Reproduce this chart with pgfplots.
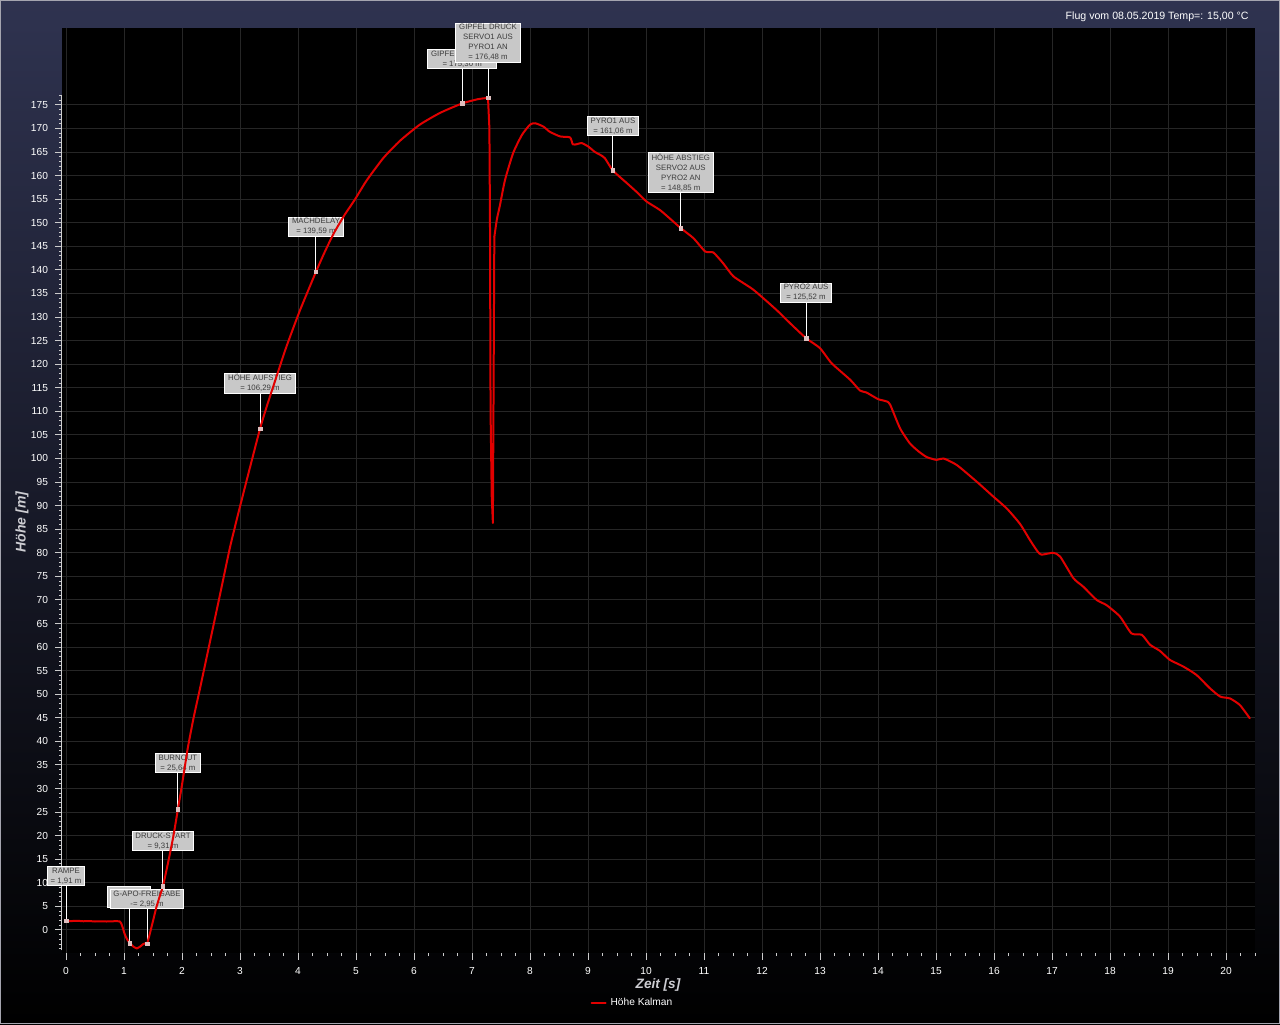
\documentclass[border=0pt]{standalone}
\usepackage{fontspec}
\setmainfont{Liberation Sans}
\usepackage{pgfplots}
\pgfplotsset{compat=1.18}
\definecolor{navytop}{RGB}{47,51,80}
\definecolor{navymid}{RGB}{24,26,42}
\definecolor{gridc}{RGB}{38,38,38}
\definecolor{ticc}{RGB}{205,205,205}
\definecolor{curvec}{RGB}{226,0,0}
\definecolor{boxfill}{RGB}{200,200,200}
\definecolor{boxtext}{RGB}{60,60,60}
\definecolor{labelc}{RGB}{205,205,210}
\definecolor{markc}{RGB}{222,190,190}
\definecolor{framec}{RGB}{165,165,175}
\tikzset{abox/.style={fill=boxfill, draw=white, line width=0.5pt, text=boxtext,
    font=\fontsize{3.9}{5}\selectfont, align=center, inner xsep=1.6pt,
    inner ysep=0.7pt, anchor=south}}
\begin{document}
\begin{tikzpicture}
\shade[top color=navytop, middle color=navymid, bottom color=black] (0pt,0pt) rectangle (640pt,512pt);
\draw[framec, line width=0.6pt] (0.3pt,0.3pt) rectangle (639.7pt,511.7pt);
\begin{axis}[
  at={(31pt,35.5pt)}, anchor=south west,
  scale only axis, width=596.5pt, height=462.5pt,
  xmin=-0.069, xmax=20.5, ymin=-4.88, ymax=191.3,
  axis background/.style={fill=black},
  axis x line*=bottom, axis y line*=left,
  axis line style={draw=none},
  xtick={0,1,...,20}, ytick={0,5,...,175},
  minor xtick={0,0.25,...,20.5}, minor ytick={-4,-3,...,177},
  tick align=outside,
  major tick length=3.5pt, minor tick length=1.6pt,
  tick style={draw=ticc, line width=0.5pt},
  grid=major, major grid style={draw=gridc, line width=0.5pt},
  ticklabel style={font=\fontsize{5.1}{6}\selectfont, text=white},
  /pgf/number format/assume math mode=true,
  clip=false,
  legend style={at={(0.479,-0.054)}, anchor=center, draw=none, fill=none,
    font=\fontsize{5.1}{6}\selectfont, text=white, inner sep=0pt},
  legend image code/.code={\draw[#1] (0pt,0pt) -- (7pt,0pt);},
]
% y axis line
\draw[ticc, line width=0.5pt] (axis cs:-0.069,-4.3) -- (axis cs:-0.069,177);
% connectors
\draw[white, line width=0.5pt] (axis cs:0,1.91) -- (axis cs:0,9.33);
\draw[white, line width=0.5pt] (axis cs:1.10,-2.8) -- (axis cs:1.10,4.67);
\draw[white, line width=0.5pt] (axis cs:1.397,-2.95) -- (axis cs:1.397,4.45);
\draw[white, line width=0.5pt] (axis cs:1.672,9.31) -- (axis cs:1.672,16.76);
\draw[white, line width=0.5pt] (axis cs:1.93,25.64) -- (axis cs:1.93,33.3);
\draw[white, line width=0.5pt] (axis cs:3.345,106.29) -- (axis cs:3.345,113.7);
\draw[white, line width=0.5pt] (axis cs:4.31,139.59) -- (axis cs:4.31,147.0);
\draw[white, line width=0.5pt] (axis cs:6.83,175.30) -- (axis cs:6.83,182.6);
\draw[white, line width=0.5pt] (axis cs:7.276,176.48) -- (axis cs:7.276,183.9);
\draw[white, line width=0.5pt] (axis cs:9.43,161.06) -- (axis cs:9.43,168.4);
\draw[white, line width=0.5pt] (axis cs:10.60,148.85) -- (axis cs:10.60,156.3);
\draw[white, line width=0.5pt] (axis cs:12.76,125.52) -- (axis cs:12.76,133.0);
% boxes
\node[abox] at (axis cs:0,9.33) {RAMPE\\= 1,91 m};
\node[abox, minimum width=21.5pt, minimum height=10.5pt] at (axis cs:1.08,4.67) {};
\node[abox] at (axis cs:1.397,4.45) {G-APO-FREIGABE\\-= 2,95 m};
\node[abox] at (axis cs:1.672,16.76) {DRUCK-START\\= 9,31 m};
\node[abox] at (axis cs:1.93,33.3) {BURNOUT\\= 25,64 m};
\node[abox] at (axis cs:3.345,113.7) {HÖHE AUFSTIEG\\= 106,29 m};
\node[abox] at (axis cs:4.31,147.0) {MACHDELAY\\= 139,59 m};
\node[abox] at (axis cs:6.83,182.6) {GIPFEL KALMAN\\= 175,30 m};
\node[abox] at (axis cs:7.276,183.9) {GIPFEL DRUCK\\SERVO1 AUS\\PYRO1 AN\\= 176,48 m};
\node[abox] at (axis cs:9.43,168.4) {PYRO1 AUS\\= 161,06 m};
\node[abox] at (axis cs:10.60,156.3) {HÖHE ABSTIEG\\SERVO2 AUS\\PYRO2 AN\\= 148,85 m};
\node[abox] at (axis cs:12.76,133.0) {PYRO2 AUS\\= 125,52 m};
% curve: ascent
\addplot[curvec, line width=1pt, smooth, tension=0.35, line cap=round, line join=round] coordinates {
(0,1.91) (0.1,1.9) (0.2,1.95) (0.3,1.85) (0.4,1.9) (0.5,1.8) (0.6,1.85) (0.7,1.8) (0.8,1.85) (0.93,1.8)
(0.97,0.8) (1.01,-0.8) (1.05,-1.9) (1.1,-2.8) (1.16,-3.5) (1.22,-3.9) (1.28,-3.5) (1.33,-3.0) (1.37,-2.8)
(1.397,-2.95) (1.43,-1.5) (1.48,0.9) (1.56,4.9) (1.62,7.3) (1.672,9.31) (1.76,14.3) (1.85,19.8) (1.93,25.64)
(2.0,30.8) (2.1,38.6) (2.2,45.0) (2.31,51.2) (2.48,61.0) (2.66,71.4) (2.83,81.3) (3.0,89.8) (3.17,98.0)
(3.345,106.29) (3.46,111.0) (3.63,117.4) (3.8,123.7) (4.03,131.3) (4.31,139.59) (4.45,143.5) (4.61,147.6)
(4.8,151.6) (4.98,154.9) (5.18,158.9) (5.47,163.7) (5.76,167.4) (6.1,170.8) (6.45,173.3) (6.83,175.30)
(7.1,176.2) (7.276,176.48)
};
\addlegendentry{Höhe Kalman}
% curve: spike
\addplot[curvec, line width=1pt, line cap=round, line join=round, forget plot] coordinates {
(7.276,176.48) (7.30,170) (7.31,150) (7.32,110) (7.34,92) (7.36,86.3) (7.37,110) (7.385,147)
};
% curve: descent
\addplot[curvec, line width=1pt, smooth, tension=0.35, line cap=round, line join=round, forget plot] coordinates {
(7.385,147) (7.43,150.8) (7.48,153.6) (7.57,159.1) (7.71,164.8) (7.86,168.6) (8.0,170.8) (8.09,171.1) (8.23,170.4)
(8.34,169.3) (8.52,168.3) (8.69,168.1) (8.74,166.6) (8.82,166.7) (8.89,166.9) (9.0,166.2) (9.12,165.0)
(9.21,164.4) (9.29,163.7) (9.43,161.06) (9.67,158.4) (9.85,156.4) (10.01,154.5) (10.24,152.7) (10.42,150.8)
(10.60,148.85) (10.82,146.7) (11.02,143.9) (11.16,143.7) (11.33,141.4) (11.51,138.6) (11.85,135.8)
(12.25,131.5) (12.5,128.5) (12.76,125.52) (13.0,123.4) (13.2,120.2) (13.52,116.7) (13.69,114.4) (13.8,114.0)
(14.0,112.6) (14.15,112.1) (14.21,111.4) (14.38,106.4) (14.55,103.2) (14.7,101.5) (14.84,100.3) (15.01,99.7)
(15.13,100.0) (15.36,98.6) (15.7,95.1) (15.99,91.9) (16.22,89.4) (16.45,86.1) (16.62,82.7) (16.75,80.3)
(16.82,79.6) (17.02,80.0) (17.14,79.2) (17.37,74.6) (17.54,72.8) (17.77,70.0) (17.94,68.9) (18.17,66.5)
(18.37,62.9) (18.55,62.6) (18.69,60.5) (18.86,59.2) (19.03,57.3) (19.26,55.9) (19.49,54.1) (19.72,51.3)
(19.9,49.5) (20.07,49.1) (20.24,47.7) (20.41,44.9)
};
% markers
\addplot[only marks, mark=square*, mark size=0.95pt, mark options={fill=markc, draw=markc}, forget plot] coordinates {
(0,1.91) (1.10,-2.8) (1.397,-2.95) (1.672,9.31) (1.93,25.64) (3.345,106.29) (4.31,139.59) (6.83,175.30)
(7.276,176.48) (9.43,161.06) (10.60,148.85) (12.76,125.52)
};
\end{axis}
\node[anchor=east, inner sep=0pt, text=white, font=\fontsize{5.3}{6}\selectfont] at (624.5pt,503.5pt) {Flug vom 08.05.2019 Temp=: 15,00 °C};
\node[rotate=90, text=labelc, font=\fontsize{7}{8}\bfseries\itshape\selectfont] at (11pt,251pt) {Höhe [m]};
\node[text=labelc, font=\fontsize{6.8}{8}\bfseries\itshape\selectfont] at (329pt,19.5pt) {Zeit [s]};
\end{tikzpicture}
\end{document}
